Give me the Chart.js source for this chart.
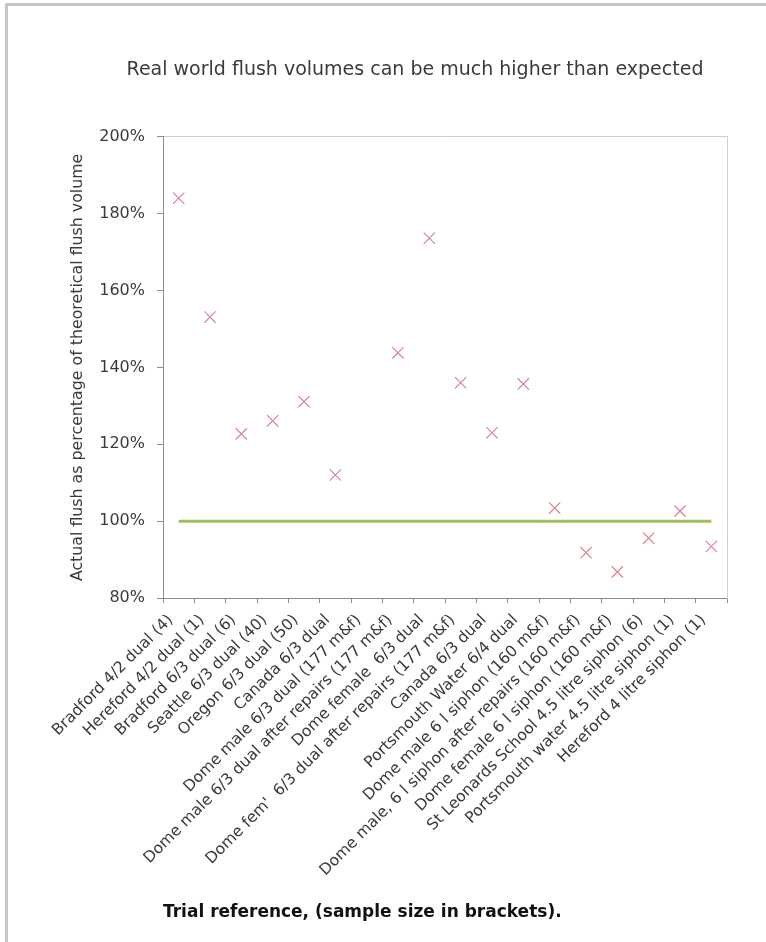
<!DOCTYPE html>
<html>
<head>
<meta charset="utf-8">
<script src="https://cdn.jsdelivr.net/npm/chart.js@4.4.1/dist/chart.umd.min.js"></script>
<style>
  html, body { margin: 0; padding: 0; background: #fff; }
  #frame { position: absolute; left: 5px; top: 3px; width: 800px; height: 1000px;
           border-top: 3px solid #c6c6c6; border-left: 3px solid #c6c6c6; }
  #chart { position: absolute; left: 0; top: 0; }
</style>
</head>
<body>
<div id="frame"></div>
<canvas id="chart" width="766" height="942"></canvas>
<script>
// Trials (sample size in brackets)
const trials = [
  "Bradford 4/2 dual (4)",
  "Hereford 4/2 dual (1)",
  "Bradford 6/3 dual (6)",
  "Seattle 6/3 dual (40)",
  "Oregon 6/3 dual (50)",
  "Canada 6/3 dual",
  "Dome male 6/3 dual (177 m&f)",
  "Dome male 6/3 dual after repairs (177 m&f)",
  "Dome female  6/3 dual",
  "Dome fem'  6/3 dual after repairs (177 m&f)",
  "Canada 6/3 dual",
  "Portsmouth Water 6/4 dual",
  "Dome male 6 l siphon (160 m&f)",
  "Dome male, 6 l siphon after repairs (160 m&f)",
  "Dome female 6 l siphon (160 m&f)",
  "St Leonards School 4.5 litre siphon (6)",
  "Portsmouth water 4.5 litre siphon (1)",
  "Hereford 4 litre siphon (1)"
];

// actual flush as % of theoretical volume (no value for one trial)
const actualPct = [184, 153.1, 122.7, 126.1, 131.1, 112, null, 143.8, 173.6, 136,
                   123, 135.7, 103.4, 91.8, 86.8, 95.6, 102.6, 93.4];

// expected = 100% line
const expectedPct = [100, 100, 100, 100, 100, 100, 100, 100, 100,
                     100, 100, 100, 100, 100, 100, 100, 100, 100];

const yTicks = { min: 80, max: 200, step: 20 };

const FONT = "'DejaVu Sans', Verdana, sans-serif";
const TEXT = "#3a3a3a";
const AXIS = "#8c8c8c";
const FRAME = "#cfcfcf";

new Chart(document.getElementById("chart"), {
  type: "line",
  data: {
    labels: trials,
    datasets: [
      {
        label: "Actual",
        data: actualPct,
        showLine: false,
        pointStyle: "crossRot",
        pointRadius: 8,
        pointBorderWidth: 1.2,
        borderColor: "#da8590",
        backgroundColor: "#da8590",
        order: 0
      },
      {
        label: "Expected",
        data: expectedPct,
        borderColor: "#9fc05a",
        borderWidth: 3,
        pointRadius: 0,
        order: 1
      }
    ]
  },
  options: {
    responsive: false,
    animation: false,
    devicePixelRatio: 1,
    layout: { padding: { left: 64, right: 0, top: 0, bottom: 15 } },
    plugins: {
      legend: { display: false },
      tooltip: { enabled: false },
      title: {
        display: true,
        text: "Real world flush volumes can be much higher than expected",
        color: TEXT,
        font: { family: FONT, size: 19, weight: "normal" },
        padding: { top: 59, bottom: 55 }
      }
    },
    scales: {
      x: {
        type: "category",
        offset: true,
        grid: { drawOnChartArea: false, drawTicks: true, tickLength: 5, offset: true, color: AXIS },
        border: { color: AXIS },
        ticks: {
          autoSkip: false,
          minRotation: 45,
          maxRotation: 45,
          padding: 8,
          labelOffset: -8,
          color: TEXT,
          font: { family: FONT, size: 15.6 }
        },
        title: {
          display: true,
          align: "start",
          text: "Trial reference, (sample size in brackets).",
          color: "#111",
          font: { family: FONT, size: 17, weight: "bold" }
        },
        afterFit: (scale) => { scale.height = 329; }
      },
      x2: {
        type: "category",
        position: "top",
        offset: true,
        ticks: { display: false },
        grid: { display: false, drawTicks: false },
        border: { display: true, color: FRAME },
        afterFit: (scale) => { scale.height = 0; }
      },
      y: {
        min: yTicks.min,
        max: yTicks.max,
        grid: { drawOnChartArea: false, drawTicks: true, tickLength: 6, color: AXIS },
        border: { color: AXIS },
        ticks: {
          stepSize: yTicks.step,
          padding: 12,
          color: TEXT,
          font: { family: FONT, size: 16 },
          callback: (v) => v + "%"
        },
        title: {
          display: true,
          text: "Actual flush as percentage of theoretical flush volume",
          color: TEXT,
          font: { family: FONT, size: 15.8 },
          padding: { top: 4, bottom: 0 }
        },
        afterFit: (scale) => { scale.width = 99; }
      },
      y2: {
        position: "right",
        min: yTicks.min,
        max: yTicks.max,
        ticks: { display: false },
        grid: { display: false, drawTicks: false },
        border: { display: true, color: FRAME },
        afterFit: (scale) => { scale.width = 39; }
      }
    }
  }
});
</script>
</body>
</html>
